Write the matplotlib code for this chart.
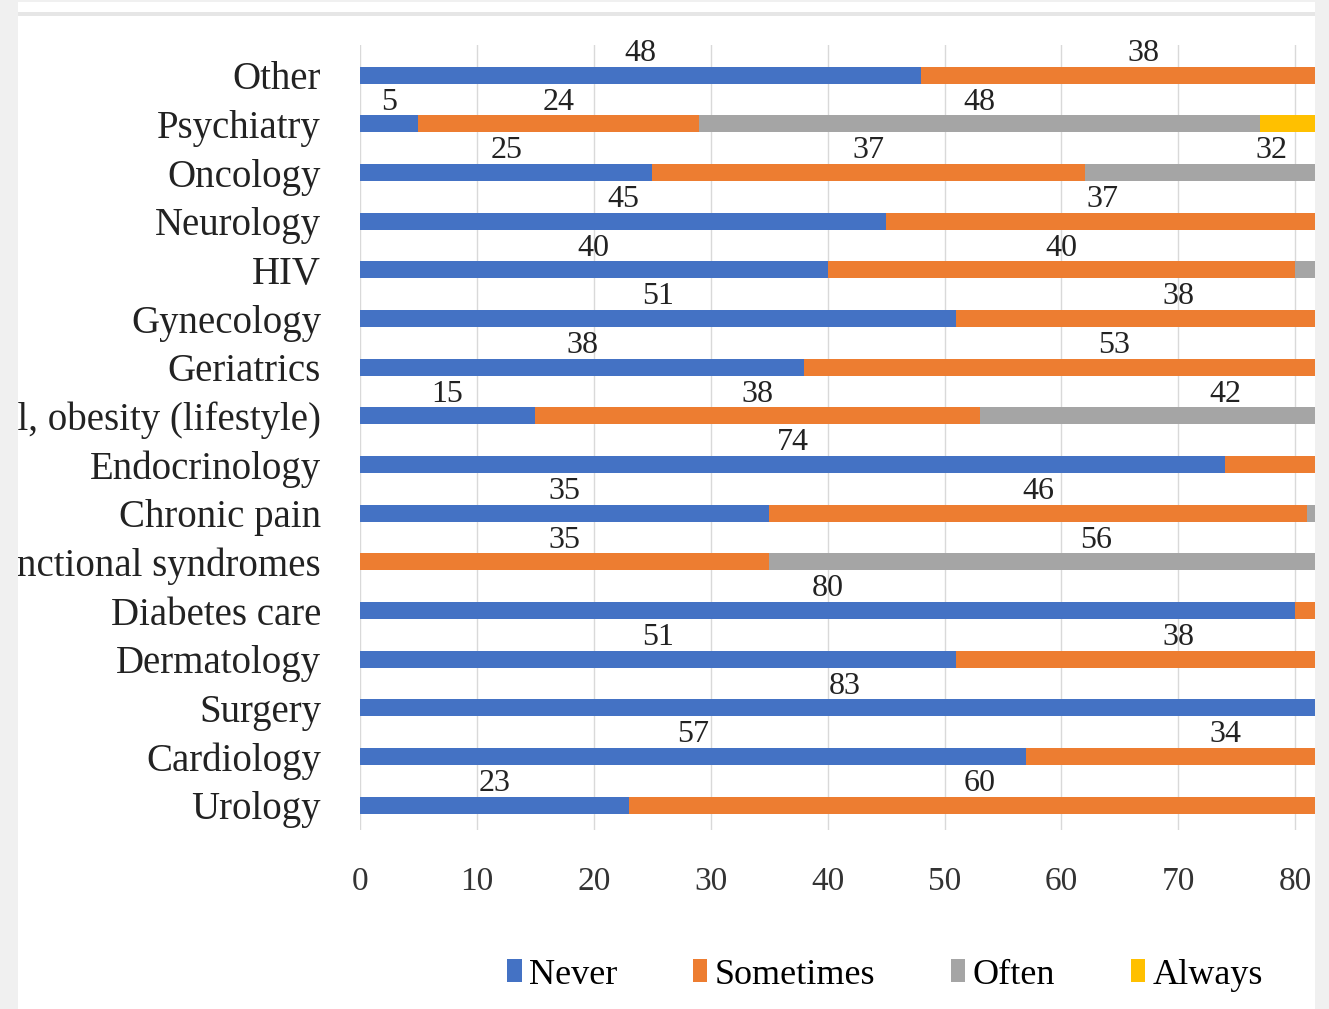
import numpy as np
import matplotlib
matplotlib.use("Agg")
import matplotlib.pyplot as plt
from matplotlib.patches import Rectangle, Patch

# categories, bottom to top (the two longest names are cut in the source crop)
categories = ["Urology", "Cardiology", "Surgery", "Dermatology", "Diabetes care",
              "nctional syndromes", "Chronic pain", "Endocrinology",
              "ol, obesity (lifestyle)", "Geriatrics", "Gynecology", "HIV",
              "Neurology", "Oncology", "Psychiatry", "Other"]
never     = [23, 57, 83, 51, 80, 0, 35, 74, 15, 38, 51, 40, 45, 25, 5, 48]
sometimes = [60, 34, 0, 38, 3, 35, 46, 20, 38, 53, 38, 40, 37, 37, 24, 38]
often     = [0, 0, 0, 0, 0, 56, 2, 0, 42, 0, 0, 3, 0, 32, 48, 0]
always    = [0, 0, 0, 0, 0, 0, 0, 0, 0, 0, 0, 0, 0, 0, 12, 0]
series_names = ["Never", "Sometimes", "Often", "Always"]
colors = ["#4472C4", "#ED7D31", "#A5A5A5", "#FFC000"]

W, H = 1329, 1009
fig = plt.figure(figsize=(W / 100, H / 100), dpi=100, facecolor="white")

# axes placed in pixel terms of the reference
ax = fig.add_axes([360 / W, 1 - 830 / H, (1315 - 360) / W, (830 - 45) / H])
y = np.arange(len(categories))
bar_h = 0.35
xmax = (1315 - 360) / 116.9 * 10

left = np.zeros(len(categories))
for name, vals, col in zip(series_names, [never, sometimes, often, always], colors):
    vals = np.array(vals, dtype=float)
    ax.barh(y, vals, left=left, height=bar_h, color=col, zorder=2)
    for yi, (l, v) in enumerate(zip(left, vals)):
        # labels whose centre falls past the cropped edge are not visible
        if v > 0 and l + v / 2 < xmax - 1.2:
            ax.annotate(f"{int(v)}", xy=(l + v / 2, yi + bar_h / 2),
                        xytext=(0, -1), textcoords="offset points",
                        ha="center", va="bottom", fontsize=23,
                        family="Liberation Serif", color="#222222",
                        annotation_clip=False)
    left += vals

ax.set_xlim(0, xmax)
ax.set_ylim(-0.51, 15.62)
ax.set_xticks(np.arange(0, 81, 10))
ax.set_yticks(y)
ax.set_yticklabels(categories, family="Liberation Serif", fontsize=28, color="#222222")
ax.tick_params(axis="y", length=0, pad=28)
ax.tick_params(axis="x", length=0, pad=26, labelsize=24, labelcolor="#333333")
for lab in ax.get_xticklabels():
    lab.set_family("Liberation Serif")
ax.grid(axis="x", color="#d9d9d9", lw=1, zorder=0)
for s in ax.spines.values():
    s.set_visible(False)

# legend
handles = [Patch(facecolor=c, edgecolor="none") for c in colors]
fig.legend(handles, series_names, loc="center", bbox_to_anchor=(885 / W, 1 - 975 / H),
           ncol=4, frameon=False, handlelength=0.4, handleheight=0.6,
           handletextpad=0.2, columnspacing=2.1,
           prop={"family": "Liberation Serif", "size": 26})

# light grey border strips of the cropped image
grey = "#f0f0f0"
fig.add_artist(Rectangle((0, 0), 18 / W, 1, transform=fig.transFigure,
                         facecolor=grey, edgecolor="none", zorder=10))
fig.add_artist(Rectangle((1315 / W, 0), 1 - 1315 / W, 1, transform=fig.transFigure,
                         facecolor=grey, edgecolor="none", zorder=10))
fig.add_artist(Rectangle((0, 1 - 2 / H), 1, 2 / H, transform=fig.transFigure,
                         facecolor=grey, edgecolor="none", zorder=10))
fig.add_artist(Rectangle((18 / W, 1 - 16 / H), (1315 - 18) / W, 4 / H, transform=fig.transFigure,
                         facecolor="#e6e6e6", edgecolor="none", zorder=10))

fig.savefig("out.png", dpi=100, facecolor=fig.get_facecolor())
